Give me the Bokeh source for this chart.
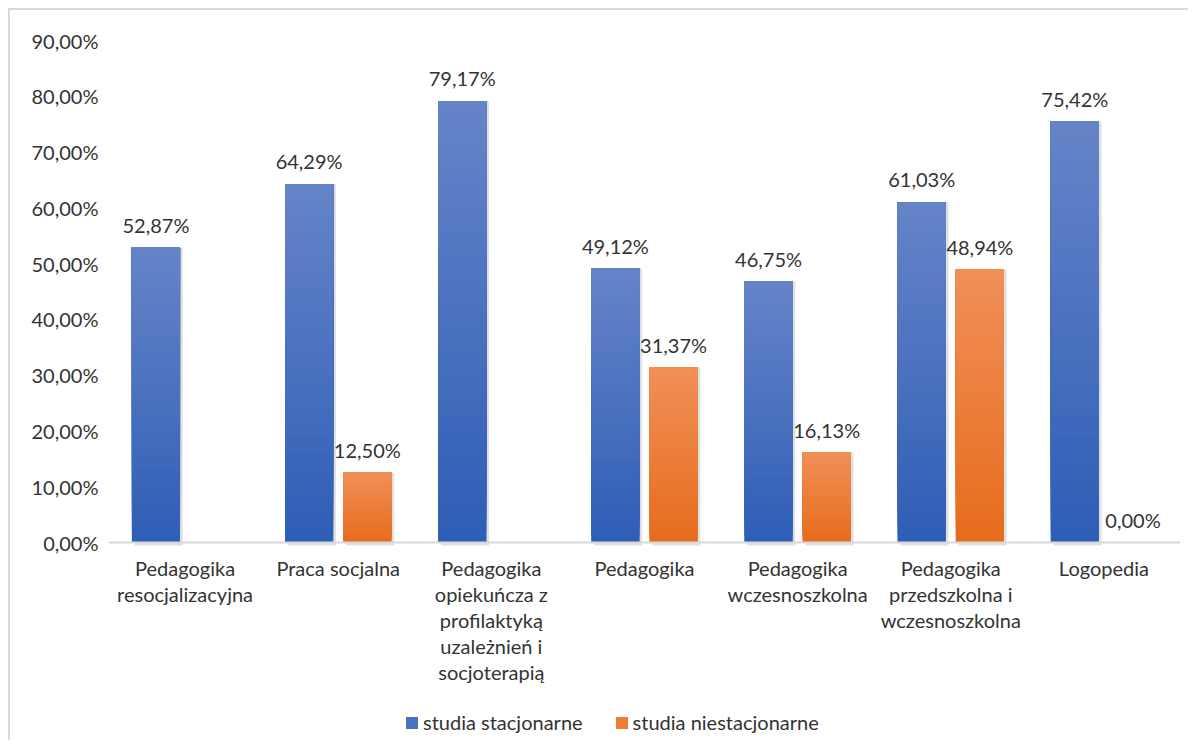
from bokeh.plotting import figure
from bokeh.models import (ColumnDataSource, FactorRange, Range1d, FixedTicker, LabelSet,
                          Legend, LegendItem, Span)
from bokeh.core.properties import value
from bokeh.transform import dodge
from bokeh.embed import file_html
from bokeh.resources import INLINE

# ---------------- data ----------------
categories = [
    "Pedagogika\nresocjalizacyjna",
    "Praca socjalna",
    "Pedagogika\nopiekuńcza z\nprofilaktyką\nuzależnień i\nsocjoterapią",
    "Pedagogika",
    "Pedagogika\nwczesnoszkolna",
    "Pedagogika\nprzedszkolna i\nwczesnoszkolna",
    "Logopedia",
]
stacjonarne = [52.87, 64.29, 79.17, 49.12, 46.75, 61.03, 75.42]
niestacjonarne = [None, 12.50, None, 31.37, 16.13, 48.94, 0.00]
series_names = ["studia stacjonarne", "studia niestacjonarne"]
y_ticks = [0, 10, 20, 30, 40, 50, 60, 70, 80, 90]

FONT = "Lato"
FS = "20px"
TXT = "#333333"
blue_bot, blue_top = (46, 94, 182), (102, 132, 200)
orng_bot, orng_top = (230, 108, 28), (241, 143, 88)

# frame extends below the zero line so the category labels and legend live inside it
FRAME_H = 700
Y_MAX = 90
Y_MIN = -(FRAME_H - 502) / 502 * Y_MAX

p = figure(x_range=FactorRange(*categories), y_range=Range1d(Y_MIN, Y_MAX),
           frame_width=1072, frame_height=FRAME_H,
           min_border_left=98, min_border_top=30, min_border_right=8, min_border_bottom=0,
           output_backend="svg", toolbar_location=None)
p.styles = {"border-left": "2px solid #d9d9d9", "border-top": "2px solid #d9d9d9",
            "margin-left": "8px", "margin-top": "8px"}
p.outline_line_color = None
p.xgrid.grid_line_color = None
p.ygrid.grid_line_color = None
p.background_fill_color = "white"
p.border_fill_color = "white"
p.xaxis.visible = False


def hexc(c):
    return "#%02x%02x%02x" % tuple(int(round(v)) for v in c)


def series(vals, off, cbot, ctop):
    N = 40
    cats = [c for c, v in zip(categories, vals) if v is not None]
    vv = [v for v in vals if v is not None]
    # soft shadow (only for visible bars)
    sh = ColumnDataSource(dict(x=[c for c, v in zip(cats, vv) if v > 0],
                               top=[v for v in vv if v > 0]))
    p.vbar(x=dodge("x", off + 0.018, range=p.x_range), top="top", bottom=-0.55, width=0.314,
           source=sh, fill_color="black", fill_alpha=0.12, line_color=None)
    mid = tuple((a + b) / 2 for a, b in zip(cbot, ctop))
    base = ColumnDataSource(dict(x=cats, top=vv))
    rb = p.vbar(x=dodge("x", off, range=p.x_range), top="top", bottom=0, width=0.314,
                source=base, fill_color=hexc(mid), line_color=None)
    # vertical gradient: overlapping slices, each reaching the bar top
    xs, bs, ts, cs = [], [], [], []
    for c, v in zip(cats, vv):
        for k in range(N):
            f = (k + 0.5) / N
            xs.append(c)
            bs.append(v * k / N)
            ts.append(v)
            cs.append(hexc(tuple(a + (b - a) * f for a, b in zip(cbot, ctop))))
    src = ColumnDataSource(dict(x=xs, bottom=bs, top=ts, color=cs))
    p.vbar(x=dodge("x", off, range=p.x_range), top="top", bottom="bottom", width=0.314,
           source=src, fill_color="color", line_color=None)
    lab = ColumnDataSource(dict(x=cats, y=vv, t=[("%.2f%%" % v).replace(".", ",") for v in vv]))
    p.add_layout(LabelSet(x=dodge("x", off, range=p.x_range), y="y", text="t", source=lab,
                          text_align="center", text_baseline="bottom", y_offset=11,
                          text_font=value(FONT), text_font_size=FS, text_color=TXT))
    return rb


r1 = series(stacjonarne, -0.19, blue_bot, blue_top)
r2 = series(niestacjonarne, 0.19, orng_bot, orng_top)

# category axis line and labels (one centred label per line)
p.add_layout(Span(location=0, dimension="width", line_color="#d9d9d9", line_width=2))
lx, ly, lt, ldy = [], [], [], []
for c in categories:
    for i, line in enumerate(c.split("\n")):
        lx.append(c)
        ly.append(0)
        lt.append(line)
        ldy.append(-13 - 26 * i)
cat_src = ColumnDataSource(dict(x=lx, y=ly, t=lt, dy=ldy))
p.add_layout(LabelSet(x="x", y="y", text="t", y_offset="dy", source=cat_src,
                      text_align="center", text_baseline="top",
                      text_font=value(FONT), text_font_size=FS, text_color=TXT))

# y axis
p.yaxis.ticker = FixedTicker(ticks=y_ticks)
p.yaxis.major_label_overrides = {t: ("%.2f%%" % t).replace(".", ",") for t in y_ticks}
p.yaxis.axis_line_color = None
p.yaxis.major_tick_line_color = None
p.yaxis.minor_tick_line_color = None
p.yaxis.major_tick_out = 0
p.yaxis.major_tick_in = 0
p.yaxis.major_label_standoff = 10
p.yaxis.major_label_text_font = FONT
p.yaxis.major_label_text_font_size = FS
p.yaxis.major_label_text_color = TXT

legend = Legend(items=[LegendItem(label=series_names[0], renderers=[r1]),
                       LegendItem(label=series_names[1], renderers=[r2])],
                orientation="horizontal", location=(296, 6),
                glyph_width=15, glyph_height=15, label_standoff=4, spacing=31,
                padding=0, margin=0, border_line_color=None, background_fill_alpha=0,
                label_text_font=FONT, label_text_font_size=FS, label_text_color=TXT)
p.add_layout(legend, "center")

open("out.html", "w").write(file_html(p, INLINE))
